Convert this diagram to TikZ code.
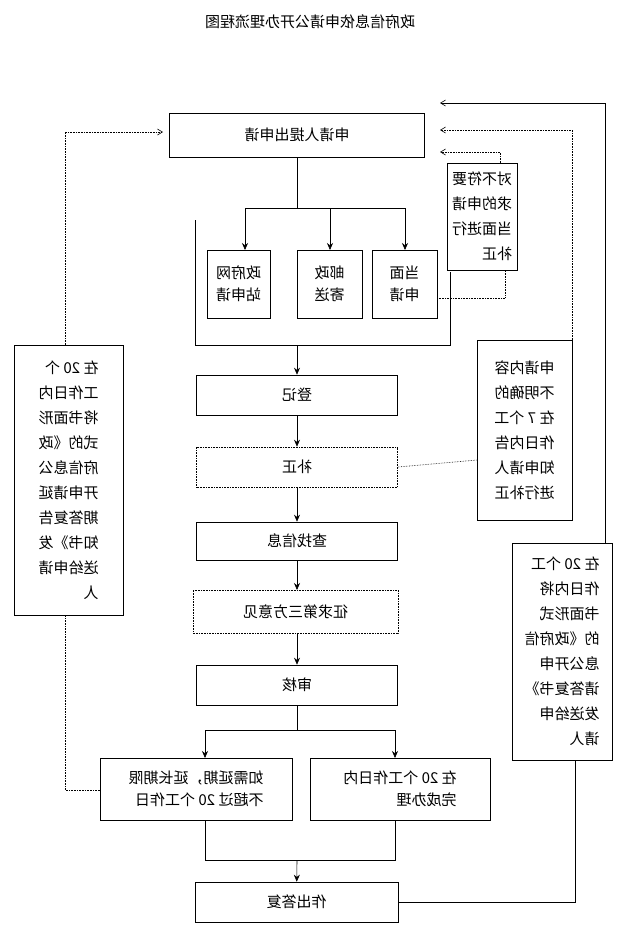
\documentclass[tikz,border=0pt]{standalone}
\usepackage{fontspec}
\setmainfont{Noto Sans CJK SC}
\usetikzlibrary{arrows.meta,positioning}
\tikzset{
  flip/.style={xscale=-1,transform shape},
  box/.style={draw,fill=white,flip,inner sep=2pt,font=\fontsize{15}{22}\selectfont,align=left},
  sbox/.style={box,font=\fontsize{15}{25}\selectfont},
  dbox/.style={box,densely dotted},
  arr/.style={-{Stealth[length=7pt,width=6pt]}},
  oarr/.style={-{Straight Barb[length=5pt,width=6pt]}},
  darr/.style={densely dotted,oarr},
}
\begin{document}
\begin{tikzpicture}[x=1pt,y=1pt,semithick]
  \useasboundingbox (0,0) rectangle (640,-938);

  % title
  \node[flip,font=\fontsize{15}{16}\selectfont] (title) at (310,-22) {政府信息依申请公开办理流程图};

  % side lines behind the boxes
  \draw[darr] (100,-790) -- (65,-790) -- (65,-132) -- (163,-132);
  \draw[darr] (572,-340) -- (572,-130) -- (440,-130);
  \draw[darr] (500,-163) -- (500,-152) -- (440,-152);
  \draw[densely dotted] (437,-298) -- (505,-298) -- (505,-270);
  \draw[densely dotted] (398,-467) -- (477,-460);
  \draw (398,-902) -- (575,-902) -- (575,-760);
  \draw[oarr] (605,-543) -- (605,-103) -- (440,-103);

  % main column
  \node[box,minimum width=255,minimum height=44] (apply) at (297,-135) {申请人提出申请};
  \node[box,minimum width=63,minimum height=68] (web) at (238.5,-284) {政府网\\站申请};
  \node[box,minimum width=65,minimum height=68] (post) at (329.5,-284) {邮政\\寄送};
  \node[box,minimum width=65,minimum height=68] (face) at (404.5,-284) {当面\\申请};
  \node[sbox,minimum width=70,minimum height=107] (fixnow) at (482,-216.5) {对不符要\\求的申请\\当面进行\\补正};
  \node[box,minimum width=201,minimum height=40] (reg) at (297,-395) {登记};
  \node[dbox,minimum width=201,minimum height=40] (fix) at (297,-467) {补正};
  \node[box,minimum width=201,minimum height=38] (find) at (297,-541) {查找信息};
  \node[dbox,minimum width=205,minimum height=43] (third) at (295.5,-611.5) {征求第三方意见};
  \node[box,minimum width=201,minimum height=40] (check) at (297,-685) {审核};
  \node[box,minimum width=192,minimum height=62] (ext) at (196,-789) {如需延期，延长期限\\不超过 20 个工作日};
  \node[box,minimum width=180,minimum height=62] (done) at (400,-789) {在 20 个工作日内\\完成办理};
  \node[box,minimum width=203,minimum height=40] (reply) at (296.5,-902) {作出答复};

  % side boxes
  \node[sbox,minimum width=109,minimum height=270] (notice) at (68.5,-480)
    {在 20 个\\工作日内\\将书面形\\式的《政\\府信息公\\开申请延\\期答复告\\知书》发\\送给申请\\人};
  \node[sbox,minimum width=95,minimum height=180] (unclear) at (524.5,-430)
    {申请内容\\不明确的\\在 7 个工\\作日内告\\知申请人\\进行补正};
  \node[sbox,minimum width=100,minimum height=217] (answer) at (562,-651.5)
    {在 20 个工\\作日内将\\书面形式\\的《政府信\\息公开申\\请答复书》\\发送给申\\请人};

  % connectors
  \draw (apply) -- (297,-208) coordinate (fork);
  \draw (245,-208) -- (405,-208);
  \draw[arr] (245,-208) -- (245,-250);
  \draw[arr] (330,-208) -- (330,-250);
  \draw[arr] (405,-208) -- (405,-250);
  \draw (195,-220) -- (195,-345) -- (450,-345) -- (450,-272);
  \draw[arr] (297,-345) -- (reg);
  \draw[arr] (reg) -- (fix);
  \draw[arr] (fix) -- (find);
  \draw[arr] (find) -- (297,-590);
  \draw[arr] (297,-633) -- (check);
  \draw (check) -- (297,-730);
  \draw (205,-730) -- (395,-730);
  \draw[arr] (205,-730) -- (205,-758);
  \draw[arr] (395,-730) -- (395,-758);
  \draw (205,-820) -- (205,-860) -- (395,-860) -- (395,-820);
  \draw[arr] (297,-860) -- (reply);
\end{tikzpicture}
\end{document}
